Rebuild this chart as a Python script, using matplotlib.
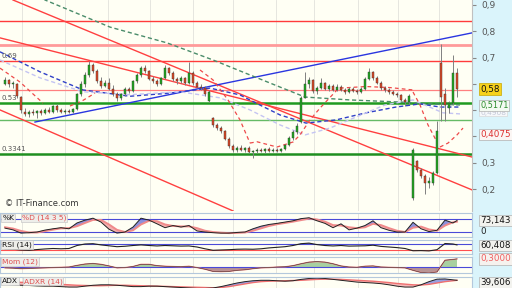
import numpy as np
from matplotlib import pyplot as plt
from matplotlib.transforms import blended_transform_factory

# bougies (une par seance)
opens = [0.600, 0.615, 0.600, 0.600, 0.550, 0.495, 0.485, 0.495, 0.488, 0.498,
         0.490, 0.500, 0.495, 0.515, 0.500, 0.492, 0.498, 0.494, 0.505, 0.560,
         0.600, 0.635, 0.670, 0.648, 0.612, 0.592, 0.605, 0.582, 0.562, 0.545,
         0.560, 0.582, 0.572, 0.610, 0.632, 0.660, 0.648, 0.620, 0.612, 0.600,
         0.622, 0.660, 0.640, 0.620, 0.610, 0.622, 0.602, 0.640, 0.602, 0.590,
         0.585, 0.535, 0.470, 0.445, 0.432, 0.420, 0.392, 0.362, 0.348, 0.358,
         0.350, 0.355, 0.342, 0.345, 0.350, 0.344, 0.352, 0.346, 0.350, 0.345,
         0.352, 0.368, 0.395, 0.418, 0.455, 0.548, 0.600, 0.615, 0.572, 0.585,
         0.602, 0.580, 0.592, 0.578, 0.590, 0.578, 0.570, 0.582, 0.574, 0.568,
         0.582, 0.620, 0.645, 0.622, 0.605, 0.585, 0.578, 0.568, 0.562, 0.556,
         0.540, 0.530, 0.165, 0.305, 0.272, 0.250, 0.225, 0.225, 0.262, 0.680,
         0.560, 0.508, 0.528, 0.640]
highs = [0.625, 0.620, 0.612, 0.603, 0.555, 0.510, 0.500, 0.505, 0.502, 0.505,
         0.508, 0.512, 0.520, 0.522, 0.510, 0.505, 0.506, 0.510, 0.565, 0.610,
         0.645, 0.688, 0.680, 0.655, 0.625, 0.615, 0.622, 0.595, 0.570, 0.565,
         0.590, 0.590, 0.615, 0.640, 0.668, 0.672, 0.652, 0.630, 0.618, 0.628,
         0.672, 0.665, 0.648, 0.628, 0.630, 0.628, 0.682, 0.648, 0.610, 0.600,
         0.592, 0.575, 0.475, 0.452, 0.440, 0.425, 0.398, 0.370, 0.362, 0.366,
         0.360, 0.362, 0.350, 0.356, 0.358, 0.355, 0.360, 0.356, 0.358, 0.356,
         0.372, 0.400, 0.425, 0.450, 0.555, 0.645, 0.625, 0.620, 0.592, 0.622,
         0.608, 0.598, 0.600, 0.598, 0.596, 0.585, 0.588, 0.590, 0.582, 0.588,
         0.628, 0.662, 0.650, 0.630, 0.612, 0.592, 0.584, 0.575, 0.570, 0.562,
         0.548, 0.562, 0.355, 0.312, 0.280, 0.258, 0.245, 0.268, 0.460, 0.750,
         0.585, 0.535, 0.710, 0.660]
lows = [0.595, 0.590, 0.585, 0.545, 0.490, 0.478, 0.475, 0.480, 0.470, 0.482,
        0.484, 0.490, 0.490, 0.495, 0.488, 0.485, 0.488, 0.490, 0.500, 0.555,
        0.590, 0.625, 0.640, 0.605, 0.585, 0.588, 0.575, 0.555, 0.535, 0.540,
        0.555, 0.565, 0.568, 0.602, 0.628, 0.640, 0.615, 0.605, 0.592, 0.596,
        0.618, 0.632, 0.612, 0.600, 0.605, 0.595, 0.598, 0.595, 0.585, 0.578,
        0.555, 0.530, 0.438, 0.425, 0.412, 0.385, 0.355, 0.340, 0.342, 0.345,
        0.340, 0.338, 0.320, 0.338, 0.340, 0.338, 0.342, 0.340, 0.342, 0.340,
        0.348, 0.362, 0.388, 0.410, 0.450, 0.545, 0.585, 0.565, 0.560, 0.580,
        0.575, 0.572, 0.572, 0.574, 0.572, 0.562, 0.566, 0.568, 0.562, 0.564,
        0.578, 0.615, 0.615, 0.598, 0.578, 0.570, 0.562, 0.556, 0.550, 0.535,
        0.515, 0.525, 0.160, 0.265, 0.242, 0.180, 0.205, 0.215, 0.258, 0.460,
        0.460, 0.490, 0.520, 0.550]
closes = [0.615, 0.600, 0.605, 0.555, 0.500, 0.485, 0.495, 0.488, 0.498, 0.490,
          0.500, 0.495, 0.515, 0.500, 0.492, 0.498, 0.494, 0.505, 0.560, 0.600,
          0.635, 0.670, 0.648, 0.612, 0.592, 0.605, 0.582, 0.562, 0.545, 0.560,
          0.582, 0.572, 0.610, 0.632, 0.660, 0.648, 0.620, 0.612, 0.600, 0.622,
          0.660, 0.640, 0.620, 0.610, 0.622, 0.602, 0.640, 0.602, 0.590, 0.585,
          0.560, 0.568, 0.445, 0.432, 0.420, 0.392, 0.362, 0.348, 0.358, 0.350,
          0.355, 0.342, 0.345, 0.350, 0.344, 0.352, 0.346, 0.350, 0.345, 0.352,
          0.368, 0.395, 0.418, 0.440, 0.548, 0.600, 0.615, 0.572, 0.585, 0.602,
          0.580, 0.592, 0.578, 0.590, 0.578, 0.570, 0.582, 0.574, 0.568, 0.582,
          0.620, 0.645, 0.622, 0.605, 0.585, 0.578, 0.568, 0.562, 0.556, 0.540,
          0.530, 0.555, 0.350, 0.272, 0.250, 0.225, 0.232, 0.262, 0.420, 0.550,
          0.520, 0.528, 0.640, 0.580]

# moyennes mobiles / courbes pointillees : (indice de seance, cours)
ma_long = [(7.5, 0.957), (10, 0.919), (26.25, 0.816), (40.5, 0.756), (52, 0.691),
           (61.25, 0.634), (68.75, 0.588), (75, 0.550), (86.25, 0.539),
           (98.75, 0.531), (106.25, 0.524), (113.75, 0.520)]
ma_mid = [(-1.25, 0.722), (8.75, 0.646), (19.5, 0.577), (31.25, 0.553), (41.25, 0.565),
          (51.25, 0.584), (58.75, 0.558), (62.75, 0.527), (68.75, 0.482),
          (75.25, 0.451), (82.75, 0.463), (90.25, 0.490), (97.75, 0.512),
          (103.75, 0.524), (108.75, 0.512), (113.75, 0.512)]
ma_court = [(-1.25, 0.691), (8.75, 0.623), (19.5, 0.570), (31.25, 0.559), (43.75, 0.570),
            (53.75, 0.547), (61.25, 0.501), (68.75, 0.444), (75, 0.406),
            (81.25, 0.432), (87.75, 0.474), (95, 0.520), (102, 0.539),
            (109.5, 0.490), (113.75, 0.486)]
sar_segments = [
    [(-1.25, 0.660), (3.75, 0.607), (9.5, 0.527)],
    [(16.25, 0.516), (19.25, 0.535), (22.5, 0.565)],
    [(48.75, 0.653), (52, 0.615), (55.75, 0.539), (58.75, 0.463), (61.25, 0.375)],
    [(61.25, 0.375), (63, 0.380), (68, 0.360), (72, 0.379), (73.75, 0.406),
     (76.25, 0.463), (78.75, 0.508), (83, 0.577)],
    [(83.75, 0.584), (90.25, 0.590), (96.25, 0.586), (102, 0.577)],
    [(102, 0.569), (103.75, 0.520), (105.75, 0.444), (108, 0.379)],
    [(108.75, 0.360), (110.75, 0.375), (113, 0.406), (114.5, 0.432)],
]

# droites de tendance et niveaux
trend_red = [((2.0, 0.919), (116.75, 0.197)),
             ((-1.25, 0.775), (116.75, 0.322)),
             ((-1.25, 0.501), (57.0, 0.117))]
trend_blue = [((7.5, 0.455), (116.75, 0.794))]
levels = [(0.839, '#ff3b3b', 1.0), (0.746, '#ff9a9a', 2.0), (0.688, '#ff3b3b', 1.0),
          (0.577, '#ff8080', 0.9), (0.528, '#1f9a1f', 1.8), (0.463, '#66bb66', 1.0),
          (0.3341, '#1f8f1f', 1.8)]
level_labels = [(0.688, '0.69'), (0.528, '0.53'), (0.3341, '0.3341')]
price_ticks = [0.2, 0.3, 0.4, 0.5, 0.6, 0.7, 0.8, 0.9]
hidden_ticks = [0.4, 0.5, 0.6]   # caches par les etiquettes de valeur
grid_idx = [4.25, 15, 25.75, 36.25, 47, 57, 67.75, 77.25, 88.25, 98.25, 108.5]

# indicateurs (une valeur toutes les deux seances)
ind_idx = list(range(0, 113, 2)) + [113]
stoch_k = [38, 30, 15, 17, 20, 29, 35, 40, 35, 62, 75, 84, 66, 33, 15, 20, 43, 84, 75, 58,
           40, 50, 43, 50, 25, 20, 17, 15, 15, 18, 20, 35, 47, 55, 60, 66, 72, 82, 86, 72,
           60, 40, 58, 30, 38, 50, 72, 40, 28, 20, 20, 65, 35, 22, 28, 75, 62, 73.1]
stoch_d = [42, 36, 25, 18, 18, 24, 31, 37, 38, 47, 62, 76, 76, 55, 30, 20, 28, 55, 72, 70,
           55, 48, 46, 46, 38, 26, 20, 17, 15, 16, 18, 26, 37, 48, 56, 62, 68, 75, 82, 78,
           68, 52, 50, 42, 38, 42, 58, 52, 38, 26, 20, 40, 45, 32, 26, 50, 65, 68]
rsi = [37, 35, 30, 28, 33, 37, 40, 38, 40, 60, 70, 72, 64, 58, 52, 55, 60, 64, 60, 57,
       60, 58, 56, 57, 50, 38, 28, 30, 32, 35, 36, 35, 38, 44, 48, 52, 60, 72, 76, 66,
       60, 57, 60, 56, 57, 58, 62, 54, 50, 46, 40, 25, 26, 24, 32, 73, 70, 64]
mom = [-0.03, -0.04, -0.06, -0.05, -0.04, -0.03, -0.02, -0.01, 0.0, 0.06,
       0.11, 0.13, 0.10, 0.04, -0.03, -0.02, 0.02, 0.10, 0.10, 0.05,
       0.03, 0.02, 0.01, 0.03, -0.02, -0.08, -0.16, -0.17, -0.16, -0.12,
       -0.10, -0.06, -0.03, -0.02, 0.0, 0.01, 0.05, 0.12, 0.18, 0.20,
       0.18, 0.12, 0.04, 0.0, -0.01, 0.03, 0.04, 0.0, -0.01, -0.02,
       -0.03, -0.12, -0.20, -0.22, -0.18, 0.25, 0.28, 0.30]
adx = [32, 30, 28, 27, 25, 24, 24, 22, 20, 20, 24, 28, 30, 30, 28, 25, 22, 22, 24, 24,
       22, 20, 18, 16, 14, 14, 16, 22, 30, 38, 44, 48, 50, 50, 48, 46, 48, 54, 58, 60,
       58, 54, 50, 46, 42, 40, 38, 35, 30, 24, 20, 20, 30, 44, 55, 56, 52, 50]
adxr = [42, 42, 41, 40, 38, 36, 34, 32, 30, 28, 27, 26, 26, 27, 28, 28, 27, 26, 25, 24,
        23, 22, 21, 20, 19, 18, 17, 18, 22, 28, 34, 40, 44, 46, 47, 48, 49, 50, 52, 54,
        55, 55, 54, 52, 50, 48, 46, 43, 40, 36, 33, 30, 29, 32, 38, 44, 48, 50]

W, H = 512, 288
BG = '#fffff4'
XLIM = (-1.25, 116.75)


def px_axes(fig, top, bottom, left=0, right=472):
  return fig.add_axes([left / W, 1 - bottom / H, (right - left) / W, (bottom - top) / H])


def style_panel(ax, ylim, border=True):
  ax.set_facecolor(BG)
  ax.set_xlim(*XLIM)
  ax.set_ylim(*ylim)
  ax.set_xticks([])
  ax.set_yticks([])
  for s in ax.spines.values():
    s.set_visible(border)
    s.set_color('#b4c8dc')
    s.set_linewidth(0.8)
  for g in grid_idx:
    ax.axvline(g, color='#e2e2dc', lw=0.6, zorder=0)


def panel_label(ax, x, text, color):
  ax.text(x, 0.92, text, transform=ax.transAxes, fontsize=5.4, color=color,
          va='top', ha='left', zorder=10,
          bbox=dict(boxstyle='square,pad=0.12', fc='#eeeeea', ec='#c8c8c8', lw=0.5))


def value_box(ax, y, text, color, fc, ec='#b0b0b0', size=6.3, pad=0.15):
  tr = blended_transform_factory(ax.transAxes, ax.transData)
  ax.text(1.017, y, text, transform=tr, fontsize=size, color=color, va='center',
          ha='left', zorder=10, clip_on=False,
          bbox=dict(boxstyle='square,pad=%s' % pad, fc=fc, ec=ec, lw=0.5))


def plot_candles(ax):
  o = np.array(opens)
  h = np.array(highs)
  l = np.array(lows)
  c = np.array(closes)
  x = np.arange(len(o))
  up = c >= o
  ax.vlines(x, l, h, color='#808080', lw=0.7, zorder=4)
  ax.bar(x[up], (c - o)[up], bottom=o[up], width=0.72, color='#22aa22',
         edgecolor='#2b3b2b', lw=0.3, zorder=5)
  ax.bar(x[~up], (o - c)[~up], bottom=c[~up], width=0.72, color='#dd4a26',
         edgecolor='#3b2b2b', lw=0.3, zorder=5)


fig = plt.figure(figsize=(W / 100, H / 100), dpi=100)
fig.patch.set_facecolor(BG)

# bande de droite
side = px_axes(fig, 0, 288, 472, 512)
side.set_facecolor('#daf4fb')
side.set_xticks([])
side.set_yticks([])
for s in side.spines.values():
  s.set_visible(False)

# graphique principal
ax = px_axes(fig, 0, 211)
style_panel(ax, (0.1167, 0.919), border=False)
ax.spines['right'].set_visible(True)
ax.spines['right'].set_color('#c0c0c0')

for p, col, lw in levels:
  ax.axhline(p, color=col, lw=lw, zorder=2)
for p, txt in level_labels:
  ax.text(0.004, p + 0.006, txt, transform=blended_transform_factory(ax.transAxes, ax.transData),
          fontsize=5, color='#555555', va='bottom', ha='left', zorder=9)

for (x0, y0), (x1, y1) in trend_red:
  ax.plot([x0, x1], [y0, y1], color='#ff4040', lw=1.0, zorder=3)
for (x0, y0), (x1, y1) in trend_blue:
  ax.plot([x0, x1], [y0, y1], color='#2a36e0', lw=1.0, zorder=3)

xs, ys = zip(*ma_long)
ax.plot(xs, ys, color='#4a8c6a', lw=1.0, ls=(0, (3, 2)), zorder=3)
xs, ys = zip(*ma_mid)
ax.plot(xs, ys, color='#3040c8', lw=1.0, ls=(0, (3, 2)), zorder=3)
xs, ys = zip(*ma_court)
ax.plot(xs, ys, color='#c4c4f2', lw=1.0, ls=(0, (3, 2)), zorder=3)
for seg in sar_segments:
  xs, ys = zip(*seg)
  ax.plot(xs, ys, color='#ee4a4a', lw=0.9, ls=(0, (3, 2.5)), zorder=3)

plot_candles(ax)

ax.text(0.01, 0.012, '© IT-Finance.com', transform=ax.transAxes, fontsize=6,
        color='#333333', va='bottom', ha='left', zorder=9)

ax.yaxis.tick_right()
ax.set_yticks(price_ticks)
ax.set_yticklabels(['' if t in hidden_ticks else ('%.1f' % t).replace('.', ',')
                    for t in price_ticks])
ax.tick_params(axis='y', length=3, color='#888888', labelsize=6.5,
               labelcolor='#555555', pad=4)

value_box(ax, 0.58, '0,58', '#111111', '#f7d21c', ec='#c8a800')
value_box(ax, 0.4908, '0,4908', '#c4c8d8', '#f6f8fa', ec='#d8d8d8', size=5.4, pad=0.08)
value_box(ax, 0.5171, '0,5171', '#2a8a2a', '#f4faf2', size=5.9, pad=0.1)
value_box(ax, 0.4075, '0,4075', '#dd3030', '#fbf6f4')

# stochastique
ax_s = px_axes(fig, 213, 237)
style_panel(ax_s, (-3, 108))
ax_s.axhline(80, color='#4a4ad8', lw=0.8)
ax_s.axhline(20, color='#4a4ad8', lw=0.8)
k = np.array(stoch_k)
d = np.array(stoch_d)
ax_s.fill_between(ind_idx, k, d, where=k >= d, interpolate=True, color='#8c90dc', lw=0)
ax_s.fill_between(ind_idx, k, d, where=k < d, interpolate=True, color='#f4b0b0', lw=0)
ax_s.plot(ind_idx, d, color='#f08a8a', lw=1.4)
ax_s.plot(ind_idx, k, color='#222222', lw=0.7)
panel_label(ax_s, 0.005, '%K', '#111111')
panel_label(ax_s, 0.046, '%D (14 3 5)', '#e05050')
value_box(ax_s, 73.143, '73,143', '#111111', '#f2f2ee')
ax_s.text(1.017, 0, '0', transform=blended_transform_factory(ax_s.transAxes, ax_s.transData),
          fontsize=6.3, color='#222222', va='bottom', ha='left', clip_on=False)

# RSI
ax_r = px_axes(fig, 240, 254)
style_panel(ax_r, (3.3, 96.7))
ax_r.axhline(70, color='#4a4ad8', lw=0.8)
ax_r.axhline(30, color='#ff5050', lw=0.8)
r = np.array(rsi)
ax_r.fill_between(ind_idx, r, 70, where=r >= 70, interpolate=True, color='#6a6ad0', lw=0)
ax_r.fill_between(ind_idx, r, 30, where=r <= 30, interpolate=True, color='#e08080', lw=0)
ax_r.plot(ind_idx, r, color='#222222', lw=0.8)
panel_label(ax_r, 0.005, 'RSI (14)', '#111111')
value_box(ax_r, 60.408, '60,408', '#111111', '#f2f2ee')

# Momentum
ax_m = px_axes(fig, 257, 273)
style_panel(ax_m, (-0.22, 0.37))
ax_m.axhline(0, color='#4a4ad8', lw=0.8)
m = np.array(mom)
ax_m.fill_between(ind_idx, m, 0, where=m >= 0, interpolate=True, color='#a8d0a0', lw=0)
ax_m.fill_between(ind_idx, m, 0, where=m < 0, interpolate=True, color='#b89494', lw=0)
ax_m.plot(ind_idx, m, color='#f08080', lw=0.9)
ax_m.plot(ind_idx, m, color='#333333', lw=0.4)
panel_label(ax_m, 0.005, 'Mom (12)', '#e05050')
value_box(ax_m, 0.30, '0,3000', '#f06060', '#f6f2ee')

# ADX / ADXR
ax_a = px_axes(fig, 277, 290)
style_panel(ax_a, (7, 64.6))
a1 = np.array(adx)
a2 = np.array(adxr)
ax_a.fill_between(ind_idx, a1, a2, where=a1 >= a2, interpolate=True, color='#9aa0e0', lw=0)
ax_a.fill_between(ind_idx, a1, a2, where=a1 < a2, interpolate=True, color='#f4b8b8', lw=0)
ax_a.plot(ind_idx, a2, color='#f07070', lw=1.0)
ax_a.plot(ind_idx, a1, color='#222222', lw=0.7)
panel_label(ax_a, 0.005, 'ADX', '#111111')
panel_label(ax_a, 0.05, 'ADXR (14)', '#e05050')
value_box(ax_a, 39.606, '39,606', '#111111', '#f2f2ee')

plt.savefig('out.png', dpi=100, facecolor=fig.get_facecolor())
